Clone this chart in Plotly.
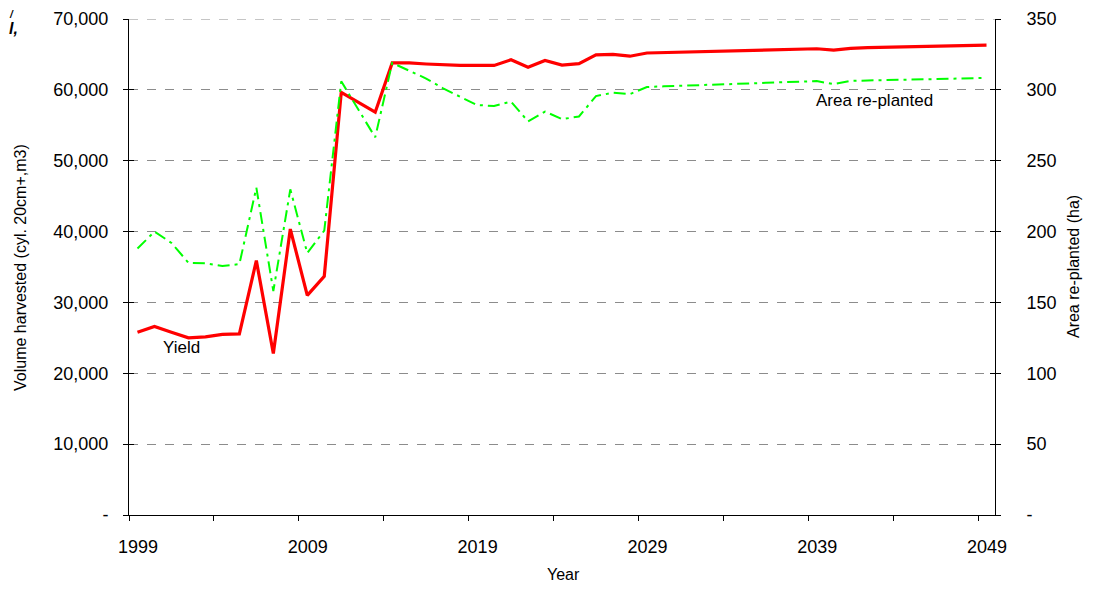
import plotly.graph_objects as go

years = list(range(1999, 2050))

yield_m3 = [25800, 26600, 25800, 25000, 25150, 25500, 25550, 35900, 22800, 40350,
            31000, 33700, 59650, 58200, 56850, 63800, 63800, 63650, 63500, 63450,
            63450, 63450, 64250, 63200, 64150, 63500, 63700, 64950, 65000, 64750,
            65200, 65250, 65300, 65380, 65450, 65500, 65550, 65620, 65680, 65740,
            65800, 65600, 65850, 65950, 66000, 66050, 66100, 66150, 66200, 66250,
            66300]

area_ha = [188, 200, 192, 178, 177.6, 175.7, 177, 231, 158, 229.8,
           184.8, 200.7, 306, 286, 266.5, 319, 313.5, 308, 301, 295,
           289.3, 288.6, 291.7, 277.7, 284.7, 279.3, 281.2, 295.6, 298, 297,
           302, 302.5, 302.8, 303.3, 303.6, 304, 304.5, 305, 305.4, 305.8,
           306.2, 304, 306.3, 306.6, 306.9, 307.2, 307.5, 307.8, 308, 308.2,
           308.4]

x_tick_vals = [1998.5 + 5 * i for i in range(11)]
x_tick_text = ["1999", "", "2009", "", "2019", "", "2029", "", "2039", "", "2049"]
left_tick_vals = [0, 10000, 20000, 30000, 40000, 50000, 60000, 70000]
left_tick_text = ["-", "10,000", "20,000", "30,000", "40,000", "50,000", "60,000", "70,000"]
right_tick_vals = [0, 50, 100, 150, 200, 250, 300, 350]
right_tick_text = ["-", "50", "100", "150", "200", "250", "300", "350"]

FONT = "Liberation Sans, Arial, sans-serif"
GRID = "#8c8c8c"

fig = go.Figure()
fig.add_trace(go.Scatter(x=years, y=area_ha, mode="lines", name="Area re-planted",
                         yaxis="y2",
                         line=dict(color="#00ff00", width=2, dash="12px,5px,3px,5px")))
fig.add_trace(go.Scatter(x=years, y=yield_m3, mode="lines", name="Yield",
                         line=dict(color="#ff0000", width=3.2)))

fig.add_annotation(x=2001.6, y=23700, text="Yield", showarrow=False,
                   font=dict(size=17, color="black"))
fig.add_annotation(x=2042.4, y=58550, text="Area re-planted", showarrow=False,
                   font=dict(size=17, color="black"))

# axis titles
fig.add_annotation(xref="paper", yref="paper", x=-0.1259, y=0.5, textangle=-90,
                   xanchor="center", yanchor="middle",
                   text="Volume harvested (cyl. 20cm+,m3)", showarrow=False,
                   font=dict(size=16, color="black"))
fig.add_annotation(xref="paper", yref="paper", x=1.0901, y=0.5, textangle=-90,
                   xanchor="center", yanchor="middle",
                   text="Area re-planted (ha)", showarrow=False,
                   font=dict(size=16, color="black"))
fig.add_annotation(xref="paper", yref="paper", x=0.5016, y=-0.119,
                   xanchor="center", yanchor="middle",
                   text="Year", showarrow=False, font=dict(size=16, color="black"))

# fragments of text at the top left corner
fig.add_annotation(xref="paper", yref="paper", x=-0.1397, y=1.022, xanchor="left",
                   yanchor="top", text="<b><i>/</i></b>", showarrow=False,
                   borderpad=0, font=dict(size=10, color="black"))
fig.add_annotation(xref="paper", yref="paper", x=-0.1397, y=1.0, xanchor="left",
                   yanchor="top", text="<b><i>l,</i></b>", showarrow=False,
                   borderpad=0, font=dict(size=16, color="black"))

# dashed gridline at the top of the range
fig.add_shape(type="line", xref="paper", yref="y", x0=0, x1=1, y0=70000, y1=70000,
              line=dict(color=GRID, width=1, dash="dash"))

axis_common = dict(showline=True, linecolor="black", linewidth=1, zeroline=False,
                   tickcolor="black", ticklen=5, automargin=False,
                   ticklabeloverflow="allow", tickfont=dict(size=18))

# page body adds an 8px offset, so the figure is sized to fit the window
fig.update_layout(
    width=1087, height=582,
    margin=dict(l=121, r=100, t=11, b=75, autoexpand=False),
    paper_bgcolor="white", plot_bgcolor="white",
    font=dict(family=FONT, size=16, color="black"),
    showlegend=False,
    xaxis=dict(axis_common, range=[1998.5, 2049.5], tickmode="array",
               tickvals=x_tick_vals, ticktext=x_tick_text, ticks="outside",
               ticklabelshift=9, ticklabelstandoff=10, showgrid=False),
    yaxis=dict(axis_common, range=[0, 70000], tickmode="array",
               tickvals=left_tick_vals, ticktext=left_tick_text, ticks="outside",
               ticklabelstandoff=11,
               showgrid=True, gridcolor=GRID, griddash="dash", gridwidth=1),
    yaxis2=dict(axis_common, range=[0, 350], tickmode="array", overlaying="y",
                side="right", tickvals=right_tick_vals, ticktext=right_tick_text,
                ticks="outside", ticklabelstandoff=22, showgrid=False),
    yaxis3=dict(range=[0, 70000], overlaying="y", side="left", tickmode="array",
                tickvals=left_tick_vals, ticks="inside", ticklen=5, tickcolor="black",
                showticklabels=False, showgrid=False, zeroline=False, showline=False,
                automargin=False),
    yaxis4=dict(range=[0, 350], overlaying="y", side="right", tickmode="array",
                tickvals=right_tick_vals, ticks="inside", ticklen=5, tickcolor="black",
                showticklabels=False, showgrid=False, zeroline=False, showline=False,
                automargin=False),
)

# invisible traces to activate the extra tick axes
fig.add_trace(go.Scatter(x=[years[0]], y=[0], yaxis="y3", mode="markers",
                         marker=dict(opacity=0), hoverinfo="skip"))
fig.add_trace(go.Scatter(x=[years[0]], y=[0], yaxis="y4", mode="markers",
                         marker=dict(opacity=0), hoverinfo="skip"))

fig.write_html("out.html")
